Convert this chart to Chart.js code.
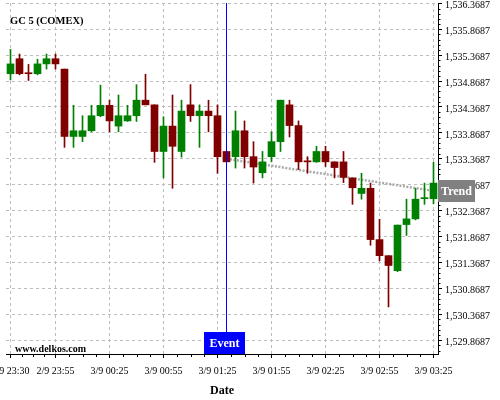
<!DOCTYPE html>
<html>
<head>
<meta charset="utf-8">
<script src="https://cdn.jsdelivr.net/npm/chart.js@4.4.1/dist/chart.umd.min.js"></script>
<style>
  html, body { margin: 0; padding: 0; background: #fff; }
  #wrap { width: 500px; height: 400px; position: relative; }
</style>
</head>
<body>
<div id="wrap"><canvas id="myChart"></canvas></div>
<script>
// 5 minute candles, GC 5 (COMEX)
const times = [
  '2/9 23:30', '2/9 23:35', '2/9 23:40', '2/9 23:45', '2/9 23:50', '2/9 23:55',
  '3/9 00:00', '3/9 00:05', '3/9 00:10', '3/9 00:15', '3/9 00:20', '3/9 00:25',
  '3/9 00:30', '3/9 00:35', '3/9 00:40', '3/9 00:45', '3/9 00:50', '3/9 00:55',
  '3/9 01:00', '3/9 01:05', '3/9 01:10', '3/9 01:15', '3/9 01:20', '3/9 01:25',
  '3/9 01:30', '3/9 01:35', '3/9 01:40', '3/9 01:45', '3/9 01:50', '3/9 01:55',
  '3/9 02:00', '3/9 02:05', '3/9 02:10', '3/9 02:15', '3/9 02:20', '3/9 02:25',
  '3/9 02:30', '3/9 02:35', '3/9 02:40', '3/9 02:45', '3/9 02:50', '3/9 02:55',
  '3/9 03:00', '3/9 03:05', '3/9 03:10', '3/9 03:15', '3/9 03:20', '3/9 03:25'
];

const opens = [
  1535.01, 1535.30, 1535.02, 1535.01, 1535.20, 1535.30, 1535.10, 1533.80,
  1533.80, 1533.91, 1534.20, 1534.40, 1534.00, 1534.10, 1534.20, 1534.50,
  1534.41, 1533.51, 1534.00, 1533.51, 1534.41, 1534.20, 1534.29, 1534.20,
  1533.51, 1533.41, 1533.91, 1533.41, 1533.10, 1533.41, 1533.70, 1534.41,
  1534.01, 1533.32, 1533.31, 1533.51, 1533.31, 1533.31, 1533.00, 1532.70,
  1532.80, 1531.81, 1531.50, 1531.21, 1532.10, 1532.21, 1532.60, 1532.60
];
const highs = [
  1535.48, 1535.39, 1535.19, 1535.29, 1535.39, 1535.39, 1535.10, 1534.40,
  1534.20, 1534.40, 1534.79, 1534.50, 1534.60, 1534.40, 1534.80, 1535.00,
  1534.41, 1534.18, 1534.60, 1534.50, 1534.80, 1534.41, 1534.50, 1534.41,
  1533.51, 1534.29, 1534.10, 1533.70, 1533.51, 1533.89, 1534.50, 1534.50,
  1534.10, 1533.41, 1533.61, 1533.61, 1533.31, 1533.51, 1533.00, 1533.09,
  1532.90, 1532.20, 1531.50, 1532.09, 1532.59, 1532.80, 1532.90, 1533.30
];
const lows = [
  1534.89, 1534.99, 1534.88, 1534.99, 1535.10, 1535.10, 1533.59, 1533.59,
  1533.70, 1533.89, 1534.18, 1533.89, 1533.89, 1534.09, 1534.09, 1534.41,
  1533.30, 1533.00, 1532.80, 1533.40, 1534.09, 1533.59, 1533.89, 1533.09,
  1533.31, 1533.19, 1533.19, 1532.90, 1533.00, 1533.31, 1533.51, 1533.79,
  1533.16, 1533.09, 1533.30, 1533.22, 1533.00, 1532.91, 1532.49, 1532.59,
  1531.70, 1531.40, 1530.51, 1531.19, 1531.89, 1532.19, 1532.49, 1532.50
];
const closes = [
  1535.20, 1535.01, 1535.01, 1535.20, 1535.30, 1535.20, 1533.80, 1533.91,
  1533.91, 1534.20, 1534.40, 1534.10, 1534.20, 1534.20, 1534.50, 1534.41,
  1533.51, 1534.00, 1533.61, 1534.29, 1534.20, 1534.29, 1534.20, 1533.41,
  1533.31, 1533.91, 1533.41, 1533.21, 1533.31, 1533.70, 1534.50, 1534.01,
  1533.31, 1533.31, 1533.51, 1533.31, 1533.20, 1533.01, 1532.81, 1532.80,
  1531.81, 1531.50, 1531.31, 1532.09, 1532.21, 1532.59, 1532.61, 1532.90
];

// trend line: from the event candle to the last candle
const trendValues = [
  null, null, null, null, null, null, null, null, null, null, null, null,
  null, null, null, null, null, null, null, null, null, null, null, null,
  1533.37, null, null, null, null, null, null, null, null, null, null, null,
  null, null, null, null, null, null, null, null, null, null, null, 1532.75
];

const majorTicks = [0, 5, 11, 17, 23, 29, 35, 41, 47];
const yTicks = [1529.8687, 1530.3687, 1530.8687, 1531.3687, 1531.8687, 1532.3687,
  1532.8687, 1533.3687, 1533.8687, 1534.3687, 1534.8687, 1535.3687, 1535.8687, 1536.3687];
const yMin = 1529.6026;
const yMax = 1536.375;
const eventIndex = 24;

const UP = '#008000';
const DOWN = '#800000';
const SERIF = '"Liberation Serif", "DejaVu Serif", serif';

const colors = opens.map((o, i) => closes[i] >= o ? UP : DOWN);

// extra axis ticks + labels drawn on top of the chart
const decorations = {
  id: 'decorations',
  afterDatasetsDraw(chart) {
    const { ctx, chartArea, scales: { x } } = chart;
    // event line
    const ex = Math.round(x.getPixelForValue(eventIndex)) + 0.5;
    ctx.save();
    ctx.strokeStyle = '#0000ff';
    ctx.lineWidth = 1;
    ctx.beginPath();
    ctx.moveTo(ex, chartArea.top);
    ctx.lineTo(ex, chartArea.bottom);
    ctx.stroke();
    ctx.restore();
  },
  afterDraw(chart) {
    const { ctx, chartArea, scales: { x, y } } = chart;
    ctx.save();

    // minor ticks on the y axis
    ctx.strokeStyle = '#000';
    ctx.lineWidth = 1;
    ctx.beginPath();
    for (let k = -3; k < 70; k++) {
      if (k % 5 === 0) continue;
      const v = yTicks[0] + k * 0.1;
      if (v < yMin || v > yMax) continue;
      const py = Math.round(y.getPixelForValue(v)) + 0.5;
      ctx.moveTo(chartArea.right, py);
      ctx.lineTo(chartArea.right + 2.5, py);
    }
    // minor ticks on the x axis
    for (let m = 0; m < majorTicks.length - 1; m++) {
      const a = majorTicks[m], b = majorTicks[m + 1];
      for (let j = 1; j < 4; j++) {
        const px = Math.round(x.getPixelForValue(a + (b - a) * j / 4)) + 0.5;
        ctx.moveTo(px, chartArea.bottom);
        ctx.lineTo(px, chartArea.bottom + 3);
      }
    }
    ctx.stroke();

    // title + watermark
    ctx.fillStyle = '#000';
    ctx.textBaseline = 'alphabetic';
    ctx.textAlign = 'left';
    ctx.font = 'bold 10.5px ' + SERIF;
    ctx.fillText('GC 5 (COMEX)', 10, 24);
    ctx.font = 'bold 10px ' + SERIF;
    ctx.fillText('www.delkos.com', 15, 352);

    // event box
    const ex = x.getPixelForValue(eventIndex);
    ctx.fillStyle = '#0000ff';
    ctx.fillRect(Math.round(ex) - 22, chartArea.bottom - 22, 41, 22);
    ctx.fillStyle = '#fff';
    ctx.textAlign = 'center';
    ctx.textBaseline = 'middle';
    ctx.font = 'bold 12px ' + SERIF;
    ctx.fillText('Event', Math.round(ex) - 1.5, chartArea.bottom - 10.5);

    // trend box
    const ty = y.getPixelForValue(trendValues[trendValues.length - 1]);
    ctx.fillStyle = '#808080';
    ctx.fillRect(chartArea.right, Math.round(ty) - 11, 37, 22);
    ctx.fillStyle = '#fff';
    ctx.fillText('Trend', chartArea.right + 18.5, Math.round(ty) + 0.5);
    ctx.restore();
  }
};

const ctx = document.getElementById('myChart').getContext('2d');

new Chart(ctx, {
  type: 'bar',
  data: {
    labels: times,
    datasets: [
      {
        type: 'bar',
        label: 'body',
        data: opens.map((o, i) => [o, closes[i]]),
        backgroundColor: colors,
        barThickness: 7,
        minBarLength: 1,
        grouped: false,
        order: 0
      },
      {
        type: 'bar',
        label: 'wick',
        data: lows.map((l, i) => [l, highs[i]]),
        backgroundColor: colors,
        barThickness: 1,
        grouped: false,
        order: 1
      },
      {
        type: 'line',
        label: 'Trend',
        data: trendValues,
        borderColor: '#aaaaaa',
        borderWidth: 2.5,
        borderDash: [2, 1.5],
        pointRadius: 0,
        spanGaps: true,
        order: 2
      }
    ]
  },
  options: {
    responsive: true,
    maintainAspectRatio: false,
    animation: false,
    layout: { padding: { left: 6, top: 3, right: 0, bottom: 0 } },
    plugins: {
      legend: { display: false },
      tooltip: { enabled: false }
    },
    scales: {
      x: {
        type: 'category',
        offset: true,
        afterBuildTicks: s => { s.ticks = majorTicks.map(v => ({ value: v })); },
        afterFit: s => { s.height = 46; s.paddingLeft = 0; s.paddingRight = 0; },
        grid: {
          offset: false,
          color: '#bdbdbd',
          tickColor: '#000',
          tickLength: 4
        },
        border: { color: '#000', width: 1, dash: [3, 3] },
        ticks: {
          autoSkip: false,
          maxRotation: 0,
          minRotation: 0,
          padding: 7,
          color: '#000',
          font: { family: SERIF, size: 10 }
        },
        title: {
          display: true,
          text: 'Date',
          color: '#000',
          font: { family: SERIF, size: 12, weight: 'bold' },
          padding: { top: 0, bottom: 2 }
        }
      },
      y: {
        position: 'right',
        min: yMin,
        max: yMax,
        afterBuildTicks: s => { s.ticks = yTicks.map(v => ({ value: v })); },
        afterFit: s => { s.width = 62; s.paddingTop = 0; s.paddingBottom = 0; },
        grid: {
          color: '#bdbdbd',
          tickColor: '#000',
          tickLength: 4
        },
        border: { color: '#000', width: 1, dash: [3, 3] },
        ticks: {
          padding: 3,
          labelOffset: 2,
          color: '#000',
          font: { family: SERIF, size: 10 },
          callback: v => v.toLocaleString('en-US', { minimumFractionDigits: 4, maximumFractionDigits: 4 })
        }
      }
    }
  },
  plugins: [decorations]
});
</script>
</body>
</html>
